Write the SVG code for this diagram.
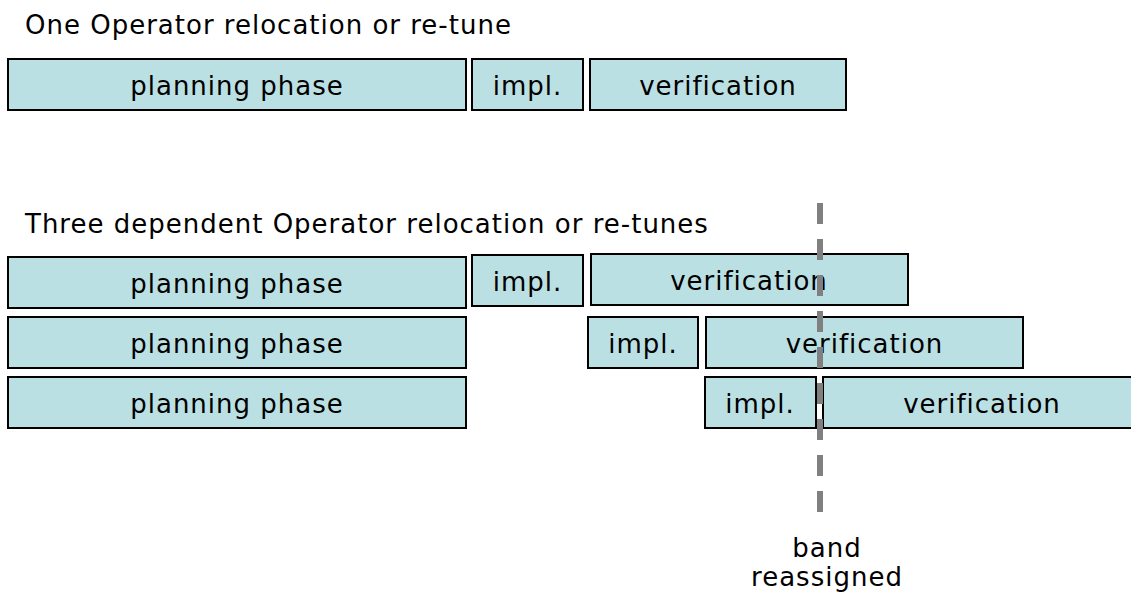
<svg xmlns="http://www.w3.org/2000/svg" width="1131" height="593" viewBox="0 0 1131 593">
<style>
.box{fill:#BBE0E3;stroke:#000;stroke-width:2}
.t{font-family:"DejaVu Sans",Verdana,sans-serif;font-size:26px;letter-spacing:1px;fill:#000}
.c{text-anchor:middle}
.band{stroke:#808080;stroke-width:6;stroke-dasharray:21 15;fill:none}
</style>
<rect width="1131" height="593" fill="#fff"/>
<text class="t" x="25" y="34">One Operator relocation or re-tune</text>
<text class="t" x="25" y="233">Three dependent Operator relocation or re-tunes</text>
<g id="r0-plan"><rect class="box" x="8" y="59" width="458" height="51"/><text class="t c" x="237" y="95">planning phase</text></g>
<g id="r0-impl"><rect class="box" x="472" y="59" width="111" height="51"/><text class="t c" x="527.5" y="95">impl.</text></g>
<g id="r0-ver"><rect class="box" x="590" y="59" width="256" height="51"/><text class="t c" x="718" y="95">verification</text></g>
<g id="r1-plan"><rect class="box" x="8" y="257" width="458" height="51"/><text class="t c" x="237" y="293">planning phase</text></g>
<g id="r1-impl"><rect class="box" x="472" y="255" width="111" height="51"/><text class="t c" x="527.5" y="291">impl.</text></g>
<g id="r1-ver"><rect class="box" x="591" y="254" width="317" height="51"/><text class="t c" x="749" y="290">verification</text></g>
<g id="r2-plan"><rect class="box" x="8" y="317" width="458" height="51"/><text class="t c" x="237" y="353">planning phase</text></g>
<g id="r2-impl"><rect class="box" x="588" y="317" width="110" height="51"/><text class="t c" x="643" y="353">impl.</text></g>
<g id="r2-ver"><rect class="box" x="706" y="317" width="317" height="51"/><text class="t c" x="864.5" y="353">verification</text></g>
<g id="r3-plan"><rect class="box" x="8" y="377" width="458" height="51"/><text class="t c" x="237" y="413">planning phase</text></g>
<g id="r3-impl"><rect class="box" x="705" y="377" width="111" height="51"/><text class="t c" x="760" y="413">impl.</text></g>
<g id="r3-ver"><rect class="box" x="823" y="377" width="318" height="51"/><text class="t c" x="982" y="413">verification</text></g>
<g id="connectors"><line class="band" x1="820" y1="203" x2="820" y2="512"/></g>
<g id="label"><text class="t c" x="827" y="557">band</text><text class="t c" x="827" y="586">reassigned</text></g>
</svg>
